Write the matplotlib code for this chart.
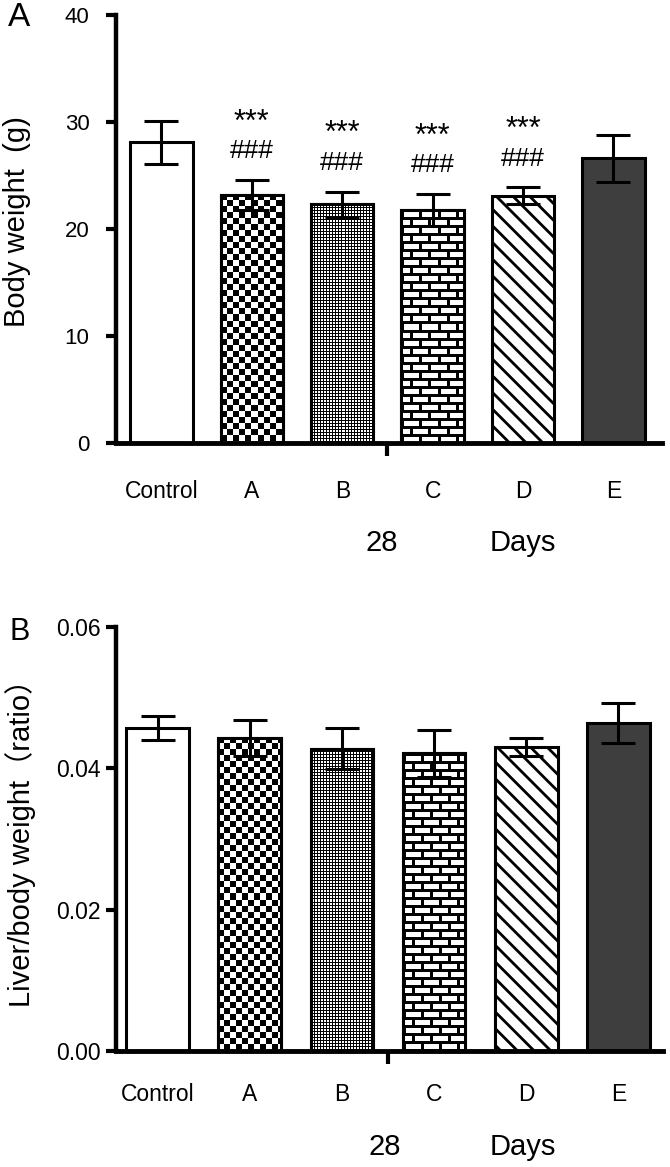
import numpy as np
import matplotlib
matplotlib.use("Agg")
import matplotlib.pyplot as plt
from matplotlib.patches import Rectangle

plt.rcParams['font.family'] = ['Liberation Sans', 'Noto Sans CJK SC', 'DejaVu Sans']
plt.rcParams['hatch.linewidth'] = 2.0

# ---------------- data ----------------
groups = ['Control', 'A', 'B', 'C', 'D', 'E']
bw_mean = [28.1, 23.2, 22.3, 21.8, 23.1, 26.6]
bw_err = [2.0, 1.4, 1.2, 1.5, 0.8, 2.2]
star_marks = ['', '***', '***', '***', '***', '']
hash_marks = ['', '###', '###', '###', '###', '']
ratio_mean = [0.0457, 0.0443, 0.0428, 0.0421, 0.0430, 0.0464]
ratio_err = [0.0017, 0.0026, 0.0029, 0.0033, 0.0013, 0.0028]
bw_ticks = [0, 10, 20, 30, 40]
ratio_ticks = [0.00, 0.02, 0.04, 0.06]
ratio_ticklabels = ['0.00', '0.02', '0.04', '0.06']
day_label = '28'

# fill style of each group (style, not data)
fills = ['white', 'checker', 'dots', 'brick', 'hatch', 'dark']

W, H = 670, 1167
fig = plt.figure(figsize=(W / 100, H / 100), dpi=100)


def px_axes(left, right, top, bottom):
    return fig.add_axes([left / W, 1 - bottom / H, (right - left) / W, (bottom - top) / H])


def texture(kind, h, w):
    i, j = np.mgrid[0:h, 0:w]
    if kind == 'checker':
        return ((i // 6 + j // 6) % 2).astype(float)
    if kind == 'dots':
        return ((i % 3 != 0) & (j % 3 != 0)).astype(float)
    if kind == 'brick':
        row = i // 8
        mortar = (i % 8) < 3
        jj = (j + (row % 2) * 9) % 18
        gap = jj < 3
        return (~mortar & ~gap).astype(float)
    return np.ones((h, w))


def draw_panel(ax, means, errs, width, xlim, ylim, ticks, ticklabels,
               ytick_size, ytick_pad, xlab_pad):
    x = np.arange(len(groups))
    ax.set_xlim(*xlim)
    ax.set_ylim(*ylim)
    bars = ax.bar(x, means, width, color='white', edgecolor='black',
                  linewidth=2.2, zorder=2)
    for bar, style in zip(bars, fills):
        if style == 'dark':
            bar.set_facecolor('#3e3e3e')
        elif style == 'hatch':
            bar.set_hatch('\\\\')
        elif style in ('checker', 'dots', 'brick'):
            x0 = bar.get_x()
            x1 = x0 + bar.get_width()
            y0 = bar.get_y()
            y1 = y0 + bar.get_height()
            p = ax.transData.transform([(x0, y0), (x1, y1)])
            wpx = int(round(abs(p[1, 0] - p[0, 0])))
            hpx = int(round(abs(p[1, 1] - p[0, 1])))
            tex = texture(style, hpx, wpx)
            im = ax.imshow(tex, extent=(x0, x1, y0, y1), cmap='gray', vmin=0, vmax=1,
                           interpolation='nearest', aspect='auto', zorder=2.1)
            im.set_clip_path(bar)
            ax.add_patch(Rectangle(bar.get_xy(), bar.get_width(), bar.get_height(),
                                   fill=False, edgecolor='black', linewidth=2.2,
                                   zorder=2.2))
    ax.errorbar(x, means, yerr=errs, fmt='none', ecolor='black', elinewidth=2.2,
                capsize=12.5, capthick=2.2, zorder=3)
    ax.set_xlim(*xlim)
    ax.set_ylim(*ylim)
    for s in ('top', 'right'):
        ax.spines[s].set_visible(False)
    ax.spines['left'].set_linewidth(3.2)
    ax.spines['bottom'].set_linewidth(3.5)
    ax.set_xticks(x, groups)
    ax.tick_params(axis='x', which='major', length=0, pad=xlab_pad, labelsize=16.5)
    ax.set_xticks([2.5], minor=True)
    ax.tick_params(axis='x', which='minor', length=9, width=3, direction='out')
    ax.set_yticks(ticks, ticklabels)
    ax.tick_params(axis='y', length=7, width=3, direction='out',
                   labelsize=ytick_size, pad=ytick_pad)
    ax.set_facecolor('none')
    return x


# ---------------- panel A ----------------
axA = px_axes(116, 662, 15, 443)
xA = draw_panel(axA, bw_mean, bw_err, 0.69, (-0.503, 5.537), (0, 40),
                bw_ticks, [str(t) for t in bw_ticks], 16, 12, 26.5)
for xi, m, e, st, hs in zip(xA, bw_mean, bw_err, star_marks, hash_marks):
    if hs:
        axA.text(xi, m + e + 2.0, hs, ha='center', va='baseline', fontsize=19)
    if st:
        axA.text(xi, m + e + 4.6, st, ha='center', va='baseline', fontsize=22)

# ---------------- panel B ----------------
axB = px_axes(116, 663, 627, 1051)
draw_panel(axB, ratio_mean, ratio_err, 0.68, (-0.451, 5.483), (0, 0.06),
           ratio_ticks, ratio_ticklabels, 16.5, 4, 23)

# ---------------- text ----------------
def ftext(xp, yp, s, **kw):
    fig.text(xp / W, 1 - yp / H, s, ha='center', va='center', **kw)

ftext(19, 18, 'A', fontsize=24)
ftext(20, 632, 'B', fontsize=22)
ftext(17, 222, 'Body weight  (g)', fontsize=21, rotation=90)
ftext(21, 836, 'Liver/body weight（ratio）', fontsize=21, rotation=90)
ftext(382, 543, day_label, fontsize=21)
ftext(523, 543, 'Days', fontsize=21)
ftext(385, 1147, day_label, fontsize=21)
ftext(523, 1147, 'Days', fontsize=21)

fig.savefig('out.png', dpi=100, facecolor='white')
